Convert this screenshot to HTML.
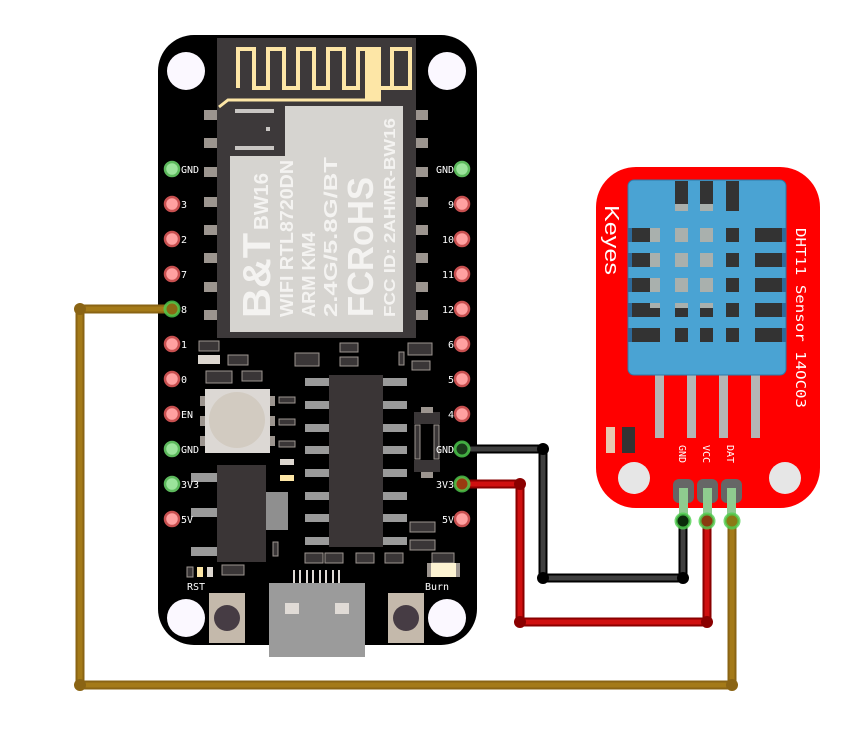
<!DOCTYPE html>
<html><head><meta charset="utf-8"><style>
html,body{margin:0;padding:0;background:#fff;}
svg{display:block;}
.pl{font-family:"DejaVu Sans Mono","Liberation Mono",monospace;font-size:10px;fill:#fff;}
</style></head><body>
<svg width="863" height="731" viewBox="0 0 863 731" xmlns="http://www.w3.org/2000/svg">
<!-- BOARD -->
<rect x="158" y="35" width="319" height="610" rx="36" fill="#000"/>
<!-- holes -->
<circle cx="186" cy="71" r="19" fill="#fbf8ff"/>
<circle cx="447" cy="71" r="19" fill="#fbf8ff"/>
<circle cx="186" cy="618" r="19" fill="#fbf8ff"/>
<circle cx="447" cy="618" r="19" fill="#fbf8ff"/>
<!-- module side pads -->
<g fill="#9c958f">
<rect x="204" y="110" width="13" height="10"/><rect x="204" y="138" width="13" height="10"/><rect x="204" y="167" width="13" height="10"/><rect x="204" y="197" width="13" height="10"/><rect x="204" y="225" width="13" height="10"/><rect x="204" y="253" width="13" height="10"/><rect x="204" y="282" width="13" height="10"/><rect x="204" y="310" width="13" height="10"/>
<rect x="416" y="110" width="12" height="10"/><rect x="416" y="138" width="12" height="10"/><rect x="416" y="167" width="12" height="10"/><rect x="416" y="197" width="12" height="10"/><rect x="416" y="225" width="12" height="10"/><rect x="416" y="253" width="12" height="10"/><rect x="416" y="282" width="12" height="10"/><rect x="416" y="310" width="12" height="10"/>
</g>
<!-- module -->
<rect x="217" y="38" width="199" height="300" fill="#3d393a"/>
<polygon points="285,106 403,106 403,332 230,332 230,156 285,156" fill="#d6d4d0"/>
<rect x="235" y="109" width="39" height="4" fill="#c9c6c3"/>
<rect x="235" y="146" width="39" height="4" fill="#c9c6c3"/>
<rect x="266" y="127" width="4" height="4" fill="#c9c6c3"/>
<!-- antenna -->
<path d="M238,88 L238,49 L254,49 L254,88 L268,88 L268,49 L284,49 L284,88 L298,88 L298,49 L314,49 L314,88 L328,88 L328,49 L344,49 L344,88 L358,88 L358,49 L375,49 L375,88 L392,88 L392,49 L410,49 L410,88 L380,88" fill="none" stroke="#fde6a6" stroke-width="4"/>
<rect x="365" y="47" width="16" height="52" fill="#fde6a6"/>
<path d="M219,107 L228,100 L381,100" fill="none" stroke="#fde6a6" stroke-width="3"/>
<!-- module text -->
<g font-family="'Liberation Sans',sans-serif" font-weight="bold" fill="#f4f3f1">
<text transform="translate(270,318) rotate(-90)" font-size="39" textLength="85" lengthAdjust="spacingAndGlyphs">B&amp;T</text>
<text transform="translate(268,230) rotate(-90)" font-size="20" textLength="57" lengthAdjust="spacingAndGlyphs">BW16</text>
<text transform="translate(293,317) rotate(-90)" font-size="18" textLength="157" lengthAdjust="spacingAndGlyphs">WIFI RTL8720DN</text>
<text transform="translate(315,317) rotate(-90)" font-size="18" textLength="85" lengthAdjust="spacingAndGlyphs">ARM KM4</text>
<text transform="translate(337,317) rotate(-90)" font-size="18" textLength="160" lengthAdjust="spacingAndGlyphs">2.4G/5.8G/BT</text>
<text transform="translate(373,317) rotate(-90)" font-size="36" textLength="140" lengthAdjust="spacingAndGlyphs">FCRoHS</text>
<text transform="translate(395,317) rotate(-90)" font-size="16" textLength="199" lengthAdjust="spacingAndGlyphs">FCC ID: 2AHMR-BW16</text>
</g>
<!-- small smd parts -->
<g fill="#3a3637" stroke="#9c958f" stroke-width="1">
<rect x="199" y="341" width="20" height="10"/><rect x="228" y="355" width="20" height="10"/><rect x="206" y="371" width="26" height="12"/><rect x="242" y="371" width="20" height="10"/>
<rect x="295" y="353" width="24" height="13"/><rect x="340" y="343" width="18" height="9"/><rect x="340" y="357" width="18" height="9"/><rect x="408" y="343" width="24" height="12"/><rect x="412" y="361" width="18" height="9"/><rect x="399" y="352" width="5" height="13"/>
<rect x="279" y="397" width="16" height="6"/><rect x="279" y="419" width="16" height="6"/><rect x="279" y="441" width="16" height="6"/>
<rect x="222" y="565" width="22" height="10"/><rect x="305" y="553" width="18" height="10"/><rect x="325" y="553" width="18" height="10"/><rect x="356" y="553" width="18" height="10"/><rect x="385" y="553" width="18" height="10"/>
<rect x="410" y="522" width="25" height="10"/><rect x="410" y="540" width="25" height="10"/><rect x="432" y="553" width="22" height="10"/><rect x="273" y="542" width="5" height="14"/>
</g>
<rect x="198" y="355" width="22" height="9" fill="#dcd6cf"/>
<rect x="280" y="459" width="14" height="6" fill="#dcd6cf"/>
<rect x="280" y="475" width="14" height="6" fill="#fde6a6"/>
<rect x="187" y="567" width="6" height="10" fill="#3a3637" stroke="#9c958f"/><rect x="197" y="567" width="6" height="10" fill="#fde6a6"/><rect x="207" y="567" width="6" height="10" fill="#dcd6cf"/>
<!-- transistor right -->
<rect x="414" y="412" width="26" height="12" fill="#3a3637"/><rect x="414" y="460" width="26" height="12" fill="#3a3637"/>
<rect x="421" y="407" width="12" height="6" fill="#9c958f"/><rect x="421" y="472" width="12" height="6" fill="#9c958f"/>
<rect x="415" y="425" width="5" height="34" fill="#3a3637" stroke="#9c958f"/><rect x="434" y="425" width="5" height="34" fill="#3a3637" stroke="#9c958f"/>
<!-- RGB LED -->
<g fill="#9c958f"><rect x="200" y="396" width="6" height="10"/><rect x="200" y="416" width="6" height="10"/><rect x="200" y="436" width="6" height="10"/><rect x="269" y="396" width="6" height="10"/><rect x="269" y="416" width="6" height="10"/><rect x="269" y="436" width="6" height="10"/></g>
<rect x="205" y="389" width="65" height="64" fill="#dcd8d4"/>
<circle cx="237" cy="420" r="28" fill="#d2cbc1"/>
<!-- IC -->
<g fill="#9a9a9a">
<rect x="305" y="378" width="24" height="8"/><rect x="305" y="401" width="24" height="8"/><rect x="305" y="424" width="24" height="8"/><rect x="305" y="446" width="24" height="8"/><rect x="305" y="469" width="24" height="8"/><rect x="305" y="492" width="24" height="8"/><rect x="305" y="514" width="24" height="8"/><rect x="305" y="537" width="24" height="8"/>
<rect x="383" y="378" width="24" height="8"/><rect x="383" y="401" width="24" height="8"/><rect x="383" y="424" width="24" height="8"/><rect x="383" y="446" width="24" height="8"/><rect x="383" y="469" width="24" height="8"/><rect x="383" y="492" width="24" height="8"/><rect x="383" y="514" width="24" height="8"/><rect x="383" y="537" width="24" height="8"/>
</g>
<rect x="329" y="375" width="54" height="172" fill="#3a3536"/>
<!-- regulator -->
<g fill="#9a9a9a"><rect x="191" y="473" width="26" height="9"/><rect x="191" y="508" width="26" height="9"/><rect x="191" y="547" width="26" height="9"/></g>
<rect x="266" y="492" width="22" height="38" fill="#8f8f8f"/>
<rect x="217" y="465" width="49" height="97" fill="#3a3536"/>
<!-- USB -->
<g fill="#e0dbd6"><rect x="293" y="570" width="2" height="20"/><rect x="299" y="570" width="2" height="20"/><rect x="306" y="570" width="2" height="20"/><rect x="312" y="570" width="2" height="20"/><rect x="319" y="570" width="2" height="20"/><rect x="325" y="570" width="2" height="20"/><rect x="332" y="570" width="2" height="20"/><rect x="338" y="570" width="2" height="20"/></g>
<rect x="269" y="583" width="96" height="74" fill="#9b9b9b"/>
<rect x="285" y="603" width="14" height="11" fill="#e0dbd6"/><rect x="335" y="603" width="14" height="11" fill="#e0dbd6"/>
<!-- buttons -->
<rect x="209" y="593" width="36" height="50" fill="#c4b9ab"/><circle cx="227" cy="618" r="13" fill="#463c44"/>
<rect x="388" y="593" width="36" height="50" fill="#c4b9ab"/><circle cx="406" cy="618" r="13" fill="#463c44"/>
<rect x="427" y="563" width="33" height="14" fill="#9c958f"/><rect x="431" y="563" width="25" height="14" fill="#fdf3d2"/>
<text x="187" y="590" class="pl">RST</text>
<text x="425" y="590" class="pl">Burn</text>
<!-- left pins -->
<g stroke-width="2.5">
<circle cx="172" cy="169" r="7" fill="#9be39b" stroke="#5cb85c"/>
<circle cx="172" cy="204" r="7" fill="#ffa0a0" stroke="#c85050"/>
<circle cx="172" cy="239" r="7" fill="#ffa0a0" stroke="#c85050"/>
<circle cx="172" cy="274" r="7" fill="#ffa0a0" stroke="#c85050"/>
<circle cx="172" cy="344" r="7" fill="#ffa0a0" stroke="#c85050"/>
<circle cx="172" cy="379" r="7" fill="#ffa0a0" stroke="#c85050"/>
<circle cx="172" cy="414" r="7" fill="#ffa0a0" stroke="#c85050"/>
<circle cx="172" cy="449" r="7" fill="#9be39b" stroke="#5cb85c"/>
<circle cx="172" cy="484" r="7" fill="#9be39b" stroke="#5cb85c"/>
<circle cx="172" cy="519" r="7" fill="#ffa0a0" stroke="#c85050"/>
<circle cx="462" cy="169" r="7" fill="#9be39b" stroke="#5cb85c"/>
<circle cx="462" cy="204" r="7" fill="#ffa0a0" stroke="#c85050"/>
<circle cx="462" cy="239" r="7" fill="#ffa0a0" stroke="#c85050"/>
<circle cx="462" cy="274" r="7" fill="#ffa0a0" stroke="#c85050"/>
<circle cx="462" cy="309" r="7" fill="#ffa0a0" stroke="#c85050"/>
<circle cx="462" cy="344" r="7" fill="#ffa0a0" stroke="#c85050"/>
<circle cx="462" cy="379" r="7" fill="#ffa0a0" stroke="#c85050"/>
<circle cx="462" cy="414" r="7" fill="#ffa0a0" stroke="#c85050"/>
<circle cx="462" cy="519" r="7" fill="#ffa0a0" stroke="#c85050"/>
</g>
<g class="pl">
<text x="181" y="173">GND</text><text x="181" y="208">3</text><text x="181" y="243">2</text><text x="181" y="278">7</text><text x="181" y="313">8</text><text x="181" y="348">1</text><text x="181" y="383">0</text><text x="181" y="418">EN</text><text x="181" y="453">GND</text><text x="181" y="488">3V3</text><text x="181" y="523">5V</text>
</g>
<g class="pl" text-anchor="end">
<text x="454" y="173">GND</text><text x="454" y="208">9</text><text x="454" y="243">10</text><text x="454" y="278">11</text><text x="454" y="313">12</text><text x="454" y="348">6</text><text x="454" y="383">5</text><text x="454" y="418">4</text><text x="454" y="453">GND</text><text x="454" y="488">3V3</text><text x="454" y="523">5V</text>
</g>

<!-- SENSOR -->
<rect x="596" y="167" width="224" height="341" rx="40" fill="#ff0000"/>
<circle cx="634" cy="478" r="16" fill="#e6e6e6"/>
<circle cx="785" cy="478" r="16" fill="#e6e6e6"/>
<g fill="#b5b5b5"><rect x="655" y="375" width="9" height="63"/><rect x="687" y="375" width="9" height="63"/><rect x="719" y="375" width="9" height="63"/><rect x="751" y="375" width="9" height="63"/></g>
<rect x="606" y="427" width="9" height="26" fill="#e8c8b0"/><rect x="622" y="427" width="13" height="26" fill="#333"/>
<rect x="628" y="180" width="158" height="195" rx="6" fill="#4aa3d3" stroke="#2e7aa8" stroke-width="1"/>
<g fill="#333">
<rect x="675" y="181" width="13" height="30"/><rect x="700" y="181" width="13" height="30"/><rect x="726" y="181" width="13" height="30"/>
<rect x="630" y="228" width="30" height="14"/><rect x="630" y="253" width="30" height="14"/><rect x="630" y="278" width="30" height="14"/><rect x="630" y="303" width="30" height="14"/><rect x="630" y="328" width="30" height="14"/>
<rect x="755" y="228" width="30" height="14"/><rect x="755" y="253" width="30" height="14"/><rect x="755" y="278" width="30" height="14"/><rect x="755" y="303" width="30" height="14"/><rect x="755" y="328" width="30" height="14"/>
<rect x="726" y="228" width="13" height="14"/><rect x="726" y="253" width="13" height="14"/><rect x="726" y="278" width="13" height="14"/><rect x="726" y="303" width="13" height="14"/><rect x="726" y="328" width="13" height="14"/>
<rect x="675" y="303" width="13" height="14"/><rect x="700" y="303" width="13" height="14"/><rect x="675" y="328" width="13" height="14"/><rect x="700" y="328" width="13" height="14"/>
</g>
<g fill="#a9b0ad">
<rect x="675" y="204" width="13" height="7"/><rect x="700" y="204" width="13" height="7"/>
<rect x="650" y="228" width="10" height="14"/><rect x="650" y="253" width="10" height="14"/><rect x="650" y="278" width="10" height="14"/>
<rect x="675" y="228" width="13" height="14"/><rect x="675" y="253" width="13" height="14"/><rect x="675" y="278" width="13" height="14"/>
<rect x="700" y="228" width="13" height="14"/><rect x="700" y="253" width="13" height="14"/><rect x="700" y="278" width="13" height="14"/>
<rect x="675" y="303" width="13" height="5"/><rect x="700" y="303" width="13" height="5"/><rect x="650" y="303" width="10" height="5"/>
</g>
<g fill="#2e6a9a"><rect x="628" y="228" width="4" height="14"/><rect x="628" y="253" width="4" height="14"/><rect x="628" y="278" width="4" height="14"/><rect x="628" y="303" width="4" height="14"/><rect x="628" y="328" width="4" height="14"/><rect x="782" y="228" width="4" height="14"/><rect x="782" y="253" width="4" height="14"/><rect x="782" y="278" width="4" height="14"/><rect x="782" y="303" width="4" height="14"/><rect x="782" y="328" width="4" height="14"/></g>
<text transform="translate(605,205) rotate(90)" font-family="'Liberation Sans',sans-serif" font-size="20" fill="#fff" textLength="70" lengthAdjust="spacingAndGlyphs">Keyes</text>
<text transform="translate(796,228) rotate(90)" font-family="'DejaVu Sans Mono',monospace" font-size="13" fill="#fff" textLength="180" lengthAdjust="spacingAndGlyphs">DHT11 Sensor 14OC03</text>
<g font-family="'DejaVu Sans Mono',monospace" font-size="10" fill="#fff">
<text transform="translate(679,445) rotate(90)">GND</text>
<text transform="translate(703,445) rotate(90)">VCC</text>
<text transform="translate(727,445) rotate(90)">DAT</text>
</g>
<g fill="#666"><rect x="673" y="479" width="21" height="24" rx="6"/><rect x="697" y="479" width="21" height="24" rx="6"/><rect x="721" y="479" width="21" height="24" rx="6"/></g>
<g fill="#8fcb8f"><rect x="679" y="488" width="9" height="32"/><rect x="703" y="488" width="9" height="32"/><rect x="727" y="488" width="9" height="32"/></g>

<!-- WIRES -->
<g fill="none" stroke-linejoin="round" stroke-linecap="round">
<path d="M172,309 L80,309 L80,685 L732,685 L732,521" stroke="#8a6414" stroke-width="9"/>
<path d="M172,309 L80,309 L80,685 L732,685 L732,521" stroke="#a47a18" stroke-width="5"/>
<path d="M462,449 L543,449 L543,578 L683,578 L683,521" stroke="#000" stroke-width="9"/>
<path d="M462,449 L543,449 L543,578 L683,578 L683,521" stroke="#404040" stroke-width="5"/>
<path d="M462,484 L520,484 L520,622 L707,622 L707,521" stroke="#8a0000" stroke-width="9"/>
<path d="M462,484 L520,484 L520,622 L707,622 L707,521" stroke="#d01010" stroke-width="5"/>
</g>
<circle cx="80" cy="309" r="6" fill="#8a6414"/><circle cx="80" cy="685" r="6" fill="#8a6414"/><circle cx="732" cy="685" r="6" fill="#8a6414"/>
<circle cx="543" cy="449" r="6" fill="#000"/><circle cx="543" cy="578" r="6" fill="#000"/><circle cx="683" cy="578" r="6" fill="#000"/>
<circle cx="520" cy="484" r="6" fill="#8a0000"/><circle cx="520" cy="622" r="6" fill="#8a0000"/><circle cx="707" cy="622" r="6" fill="#8a0000"/>
<!-- end pins with green rings -->
<g stroke="#4fd04f" stroke-width="3" stroke-opacity="0.8">
<circle cx="172" cy="309" r="7" fill="#8a6a14"/>
<circle cx="462" cy="449" r="7" fill="#1a3a1a"/>
<circle cx="462" cy="484" r="7" fill="#9a3a10"/>
<circle cx="683" cy="521" r="7" fill="#0a2a0a"/>
<circle cx="707" cy="521" r="7" fill="#8a3a10"/>
<circle cx="732" cy="521" r="7" fill="#8a7a14"/>
</g>
</svg>
</body></html>
